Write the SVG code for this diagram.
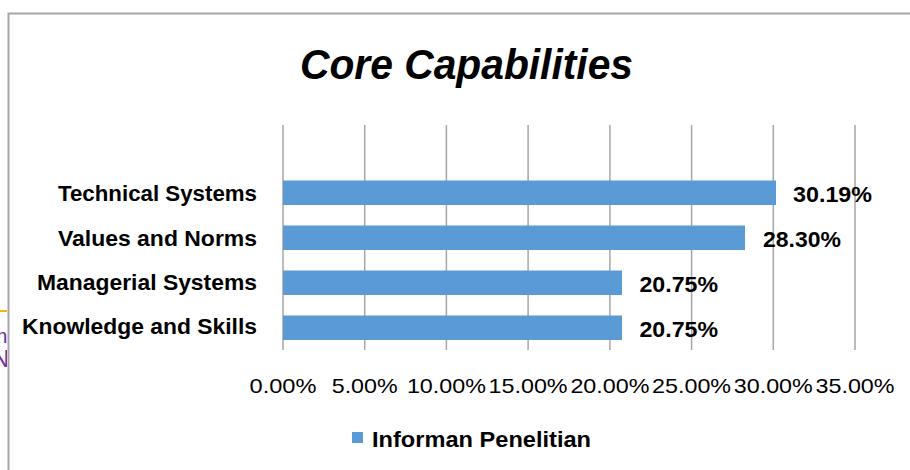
<svg xmlns="http://www.w3.org/2000/svg" width="910" height="470" viewBox="0 0 910 470">
<style>
.grid{stroke:#A6A6A6;stroke-width:1.5}
.bar{fill:#5B9BD5}
.cat{font-family:"Liberation Sans",Arial,sans-serif;font-weight:bold;font-size:22px;fill:#000;text-anchor:end}
.val{font-family:"Liberation Sans",Arial,sans-serif;font-weight:bold;font-size:22px;fill:#000}
.ax{font-family:"Liberation Sans",Arial,sans-serif;font-size:21px;fill:#000;text-anchor:middle}
.title{font-family:"Liberation Sans",Arial,sans-serif;font-weight:bold;font-style:italic;font-size:43px;fill:#000}
.leg{font-family:"Liberation Sans",Arial,sans-serif;font-weight:bold;font-size:22px;fill:#000}
</style>
<defs>
<clipPath id="edge"><rect x="0" y="0" width="7" height="470"/></clipPath>
</defs>
<rect width="910" height="470" fill="#fff"/>
<g id="edge-artifacts" clip-path="url(#edge)">
<line x1="0" y1="311" x2="7" y2="311" stroke="#F2B800" stroke-width="2"/>
<text x="-10" y="343" font-family="Liberation Sans,Arial,sans-serif" font-size="21" fill="#7030A0">m</text>
<text x="-8" y="367" font-family="Liberation Sans,Arial,sans-serif" font-size="24" fill="#7030A0">N</text>
</g>
<g id="frame">
<path d="M8.5 470 V13.5 H910" fill="none" stroke="#A6A6A6" stroke-width="2"/>
</g>
<g id="title"><text class="title" x="300" y="79" textLength="333" lengthAdjust="spacingAndGlyphs">Core Capabilities</text></g>
<g id="gridlines">
<line class="grid" x1="283" y1="125" x2="283" y2="350"/>
<line class="grid" x1="364.7" y1="125" x2="364.7" y2="350"/>
<line class="grid" x1="446.4" y1="125" x2="446.4" y2="350"/>
<line class="grid" x1="528.1" y1="125" x2="528.1" y2="350"/>
<line class="grid" x1="609.9" y1="125" x2="609.9" y2="350"/>
<line class="grid" x1="691.6" y1="125" x2="691.6" y2="350"/>
<line class="grid" x1="773.3" y1="125" x2="773.3" y2="350"/>
<line class="grid" x1="855" y1="125" x2="855" y2="350"/>
</g>
<g id="bar-technical">
<rect class="bar" x="283" y="180.5" width="493" height="24.5"/>
<text class="cat" x="257" y="201" textLength="199" lengthAdjust="spacingAndGlyphs">Technical Systems</text>
<text class="val" x="793" y="202" textLength="79" lengthAdjust="spacingAndGlyphs">30.19%</text>
</g>
<g id="bar-values">
<rect class="bar" x="283" y="225.5" width="462" height="24.5"/>
<text class="cat" x="257" y="245.5" textLength="199" lengthAdjust="spacingAndGlyphs">Values and Norms</text>
<text class="val" x="763" y="247" textLength="78" lengthAdjust="spacingAndGlyphs">28.30%</text>
</g>
<g id="bar-managerial">
<rect class="bar" x="283" y="270.5" width="339" height="24.5"/>
<text class="cat" x="257" y="289.5" textLength="220" lengthAdjust="spacingAndGlyphs">Managerial Systems</text>
<text class="val" x="639.5" y="292" textLength="78.5" lengthAdjust="spacingAndGlyphs">20.75%</text>
</g>
<g id="bar-knowledge">
<rect class="bar" x="283" y="315.5" width="339" height="24.5"/>
<text class="cat" x="257" y="334" textLength="235" lengthAdjust="spacingAndGlyphs">Knowledge and Skills</text>
<text class="val" x="639.5" y="337" textLength="78.5" lengthAdjust="spacingAndGlyphs">20.75%</text>
</g>
<g id="x-axis-labels">
<text class="ax" x="283" y="393" textLength="67" lengthAdjust="spacingAndGlyphs">0.00%</text>
<text class="ax" x="364.7" y="393" textLength="66" lengthAdjust="spacingAndGlyphs">5.00%</text>
<text class="ax" x="446.4" y="393" textLength="79" lengthAdjust="spacingAndGlyphs">10.00%</text>
<text class="ax" x="528.1" y="393" textLength="79" lengthAdjust="spacingAndGlyphs">15.00%</text>
<text class="ax" x="609.9" y="393" textLength="79" lengthAdjust="spacingAndGlyphs">20.00%</text>
<text class="ax" x="691.6" y="393" textLength="79" lengthAdjust="spacingAndGlyphs">25.00%</text>
<text class="ax" x="773.3" y="393" textLength="79" lengthAdjust="spacingAndGlyphs">30.00%</text>
<text class="ax" x="855" y="393" textLength="79" lengthAdjust="spacingAndGlyphs">35.00%</text>
</g>
<g id="legend">
<rect class="bar" x="352" y="432" width="11" height="11"/>
<text class="leg" x="372" y="447" textLength="219" lengthAdjust="spacingAndGlyphs">Informan Penelitian</text>
</g>
</svg>
